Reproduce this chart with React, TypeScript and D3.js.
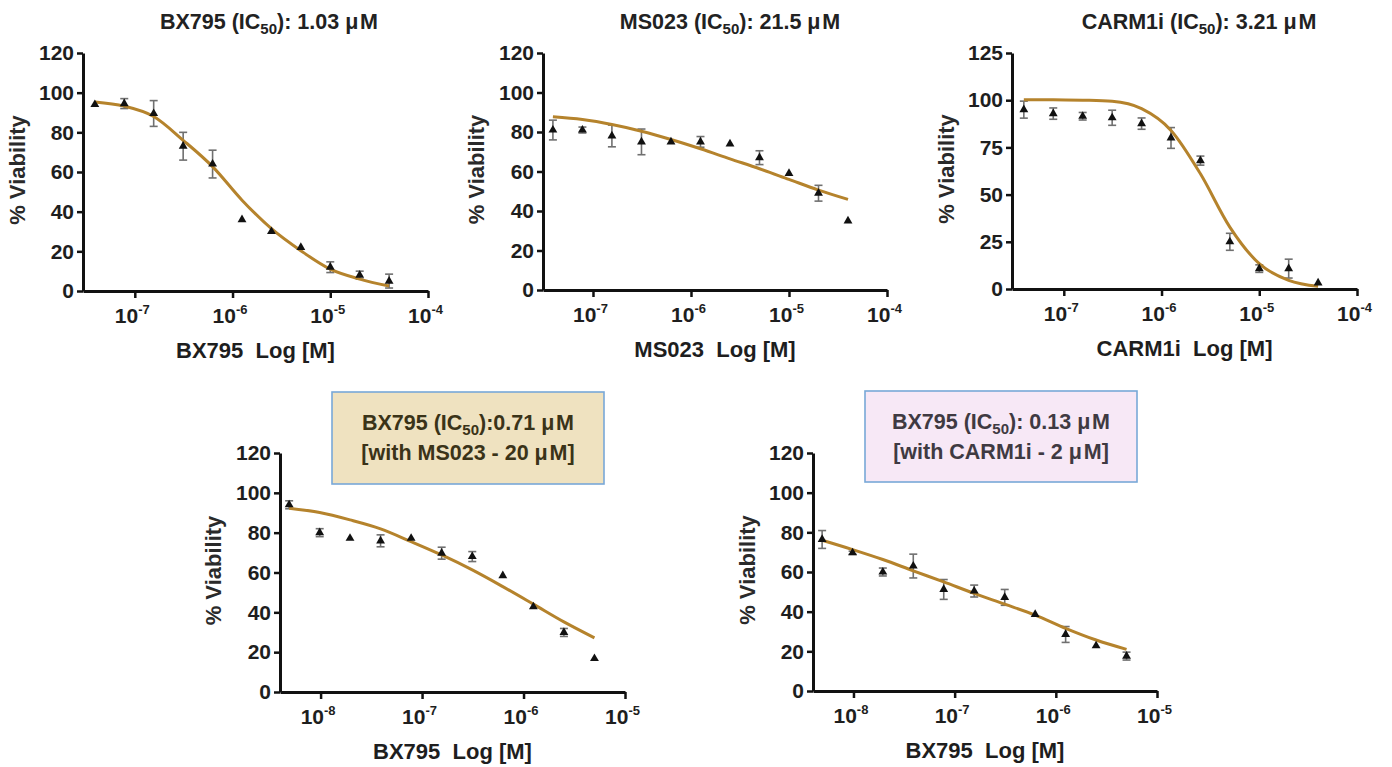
import React, { useRef, useEffect } from 'react';
import * as d3 from 'd3';

// doses (M) - 2 fold dilution series
const topDoses = [3.9e-8, 7.8e-8, 1.56e-7, 3.125e-7, 6.25e-7, 1.25e-6, 2.5e-6, 5e-6, 1e-5, 2e-5, 4e-5];
const bottomDoses = [4.9e-9, 9.8e-9, 1.95e-8, 3.9e-8, 7.8e-8, 1.56e-7, 3.125e-7, 6.25e-7, 1.25e-6, 2.5e-6, 5e-6];

const topTicks = [1e-7, 1e-6, 1e-5, 1e-4];
const topTickExp = ['-7', '-6', '-5', '-4'];
const bottomTicks = [1e-8, 1e-7, 1e-6, 1e-5];
const bottomTickExp = ['-8', '-7', '-6', '-5'];

const yTicks120 = [0, 20, 40, 60, 80, 100, 120];
const yTicks125 = [0, 25, 50, 75, 100, 125];

// BX795 alone
const bx795Mean = [94, 94.5, 89.5, 73, 64, 36, 30, 22, 12, 8, 5];
const bx795Err = [0, 2.5, 6.5, 7, 7, 0, 0, 0, 2.7, 2, 3.5];
const bx795Fit = [95.3, 93.2, 88, 76, 62.7, 45.8, 31.4, 20.3, 11, 6, 2.5];

// MS023 alone
const ms023Mean = [81, 81, 78, 75, 75, 75, 74, 67, 59, 49, 35];
const ms023Err = [5, 1.5, 5.5, 6.5, 0, 2.7, 0, 3.5, 0, 4, 0];
const ms023Fit = [87.7, 86.3, 83.8, 80.4, 76.2, 71.5, 66.4, 61.4, 56, 50.6, 45.9];

// CARM1i alone
const carm1Mean = [95, 92.9, 91.5, 90.7, 87.6, 80, 68, 25, 10.8, 10.8, 3.2];
const carm1Err = [4.5, 3, 2, 4, 3, 5.5, 2.4, 4.5, 2, 5, 0];
const carm1Fit = [100.3, 100.3, 100, 99.4, 95.5, 84, 61, 32.8, 13.4, 4.6, 1.4];

// BX795 + MS023 20 uM
const comboMsMean = [94, 80, 77.2, 75.9, 77.2, 69.7, 68, 58.4, 42.8, 29.9, 16.8];
const comboMsErr = [2, 2, 0, 3, 0, 3, 2.5, 0, 0, 2, 0];
const comboMsFit = [92.3, 90.1, 86.4, 81.9, 75.5, 68.8, 61.3, 52.9, 44.1, 35.2, 27.2];

// BX795 + CARM1i 2 uM
const comboCaMean = [76.4, 69.7, 60, 63, 51.2, 50.4, 47.2, 38.6, 28.5, 22.8, 17.6];
const comboCaErr = [4.5, 0.8, 2, 6, 5, 3, 4, 0, 4, 0, 2];
const comboCaFit = [76, 71.3, 66.3, 60.6, 55, 49.2, 43.8, 38.3, 31.6, 25.7, 21];

const FONT = "'Liberation Sans', Arial, Helvetica, sans-serif";
const CURVE = '#b5832c';

const panels = [
  { left: 83, top: 53, right: 428, bottom: 291, xDomain: [10 ** -7.53, 1e-4], doses: topDoses, ticks: topTicks, exps: topTickExp,
    yMax: 120, yTicks: yTicks120, mean: bx795Mean, err: bx795Err, fit: bx795Fit, xLabel: 'BX795\u00a0\u00a0Log [M]', yTitleX: 17,
    title: { x: 269, y: 29, pre: 'BX795 (IC', post: '): 1.03 \u03bc\u200aM' } },
  { left: 543, top: 53, right: 887, bottom: 290, xDomain: [10 ** -7.51, 1e-4], doses: topDoses, ticks: topTicks, exps: topTickExp,
    yMax: 120, yTicks: yTicks120, mean: ms023Mean, err: ms023Err, fit: ms023Fit, xLabel: 'MS023\u00a0\u00a0Log [M]', yTitleX: 476,
    title: { x: 730, y: 29, pre: 'MS023 (IC', post: '): 21.5 \u03bc\u200aM' } },
  { left: 1012, top: 53, right: 1357, bottom: 289, xDomain: [10 ** -7.53, 1e-4], doses: topDoses, ticks: topTicks, exps: topTickExp,
    yMax: 125, yTicks: yTicks125, mean: carm1Mean, err: carm1Err, fit: carm1Fit, xLabel: 'CARM1i\u00a0\u00a0Log [M]', yTitleX: 946,
    title: { x: 1199, y: 29, pre: 'CARM1i (IC', post: '): 3.21 \u03bc\u200aM' } },
  { left: 280, top: 453, right: 625, bottom: 692, xDomain: [10 ** -8.4, 1e-5], doses: bottomDoses, ticks: bottomTicks, exps: bottomTickExp,
    yMax: 120, yTicks: yTicks120, mean: comboMsMean, err: comboMsErr, fit: comboMsFit, xLabel: 'BX795\u00a0\u00a0Log [M]', yTitleX: 213,
    box: { x: 332, y: 392, w: 272, h: 92, fill: '#efe2c0', color: '#3a3318', line1: ['BX795 (IC', '):0.71 \u03bc\u200aM'], line2: '[with MS023 - 20 \u03bc\u200aM]' } },
  { left: 813, top: 453, right: 1157, bottom: 691, xDomain: [10 ** -8.4, 1e-5], doses: bottomDoses, ticks: bottomTicks, exps: bottomTickExp,
    yMax: 120, yTicks: yTicks120, mean: comboCaMean, err: comboCaErr, fit: comboCaFit, xLabel: 'BX795\u00a0\u00a0Log [M]', yTitleX: 747,
    box: { x: 865, y: 391, w: 272, h: 91, fill: '#f7e8f6', color: '#3f3a42', line1: ['BX795 (IC', '): 0.13 \u03bc\u200aM'], line2: '[with CARM1i - 2 \u03bc\u200aM]' } },
];

const App = () => {
  const svgRef = useRef(null);

  useEffect(() => {
    const svg = d3.select(svgRef.current);
    svg.selectAll('*').remove();

    panels.forEach((p) => {
      const g = svg.append('g');
      const x = d3.scaleLog().domain(p.xDomain).range([p.left, p.right]);
      const y = d3.scaleLinear().domain([0, p.yMax]).range([p.bottom, p.top]);

      // y axis
      const yAxis = g.append('g')
        .attr('transform', `translate(${p.left},0)`)
        .call(d3.axisLeft(y).tickValues(p.yTicks).tickSize(6).tickSizeOuter(0).tickPadding(3));
      yAxis.select('.domain').attr('stroke', '#111').attr('stroke-width', 3);
      yAxis.selectAll('.tick line').attr('stroke', '#111').attr('stroke-width', 2.5);
      yAxis.selectAll('.tick text')
        .attr('font-family', FONT).attr('font-weight', 'bold').attr('font-size', 21).attr('fill', '#1e1e1e');

      // x axis
      const xAxis = g.append('g')
        .attr('transform', `translate(0,${p.bottom})`)
        .call(d3.axisBottom(x).tickValues(p.ticks).tickSize(7).tickSizeOuter(0));
      xAxis.select('.domain').attr('stroke', '#111').attr('stroke-width', 3);
      xAxis.selectAll('.tick line').attr('stroke', '#111').attr('stroke-width', 2.5);
      xAxis.selectAll('.tick text').remove();
      xAxis.selectAll('.tick').each(function (d, i) {
        const t = d3.select(this).append('text')
          .attr('y', 32).attr('x', -3)
          .attr('text-anchor', 'middle')
          .attr('font-family', FONT).attr('font-weight', 'bold').attr('font-size', 21).attr('fill', '#1e1e1e');
        t.append('tspan').text('10');
        t.append('tspan').attr('dy', -9).attr('font-size', 13).text(p.exps[i]);
      });

      // axis titles
      g.append('text')
        .attr('x', (p.left + p.right) / 2).attr('y', p.bottom + 67)
        .attr('text-anchor', 'middle')
        .attr('font-family', FONT).attr('font-weight', 'bold').attr('font-size', 22).attr('fill', '#1e1e1e')
        .text(p.xLabel);
      g.append('text')
        .attr('transform', `translate(${p.yTitleX},${(p.top + p.bottom) / 2 - 2}) rotate(-90)`)
        .attr('dy', '0.35em')
        .attr('text-anchor', 'middle')
        .attr('font-family', FONT).attr('font-weight', 'bold').attr('font-size', 22).attr('fill', '#2a2a2a')
        .text('% Viability');

      const pts = p.doses.map((d, i) => ({ dose: d, mean: p.mean[i], err: p.err[i], fit: p.fit[i] }));

      // error bars
      const eb = g.append('g').attr('stroke', '#707070').attr('stroke-width', 1.6);
      pts.filter((d) => d.err > 0).forEach((d) => {
        const cx = x(d.dose);
        const y1 = y(d.mean + d.err);
        const y2 = y(d.mean - d.err);
        eb.append('line').attr('x1', cx).attr('x2', cx).attr('y1', y1).attr('y2', y2);
        eb.append('line').attr('x1', cx - 4).attr('x2', cx + 4).attr('y1', y1).attr('y2', y1);
        eb.append('line').attr('x1', cx - 4).attr('x2', cx + 4).attr('y1', y2).attr('y2', y2);
      });

      // fitted curve
      const line = d3.line()
        .x((d) => x(d.dose))
        .y((d) => y(d.fit))
        .curve(d3.curveMonotoneX);
      g.append('path')
        .datum(pts)
        .attr('fill', 'none')
        .attr('stroke', CURVE)
        .attr('stroke-width', 3)
        .attr('d', line);

      // points
      g.selectAll('.pt')
        .data(pts)
        .join('path')
        .attr('class', 'pt')
        .attr('d', d3.symbol().type(d3.symbolTriangle).size(34))
        .attr('transform', (d) => `translate(${x(d.dose)},${y(d.mean)})`)
        .attr('fill', '#111');

      // titles
      if (p.title) {
        const t = g.append('text')
          .attr('x', p.title.x).attr('y', p.title.y)
          .attr('text-anchor', 'middle')
          .attr('font-family', FONT).attr('font-weight', 'bold').attr('font-size', 21.5).attr('fill', '#222');
        t.append('tspan').text(p.title.pre);
        t.append('tspan').attr('dy', 5).attr('font-size', 15).text('50');
        t.append('tspan').attr('dy', -5).text(p.title.post);
      }

      if (p.box) {
        const b = p.box;
        g.append('rect')
          .attr('x', b.x).attr('y', b.y).attr('width', b.w).attr('height', b.h)
          .attr('fill', b.fill).attr('stroke', '#78a8d8').attr('stroke-width', 1.6);
        const t1 = g.append('text')
          .attr('x', b.x + b.w / 2).attr('y', b.y + 38)
          .attr('text-anchor', 'middle')
          .attr('font-family', FONT).attr('font-weight', 'bold').attr('font-size', 21.5).attr('fill', b.color);
        t1.append('tspan').text(b.line1[0]);
        t1.append('tspan').attr('dy', 5).attr('font-size', 15).text('50');
        t1.append('tspan').attr('dy', -5).text(b.line1[1]);
        g.append('text')
          .attr('x', b.x + b.w / 2).attr('y', b.y + 68)
          .attr('text-anchor', 'middle')
          .attr('font-family', FONT).attr('font-weight', 'bold').attr('font-size', 21.5).attr('fill', b.color)
          .text(b.line2);
      }
    });
  }, []);

  return (
    <svg
      ref={svgRef}
      width={1392}
      height={767}
      style={{ position: 'absolute', left: 0, top: 0, background: '#fff', display: 'block' }}
    />
  );
};

export default App;
